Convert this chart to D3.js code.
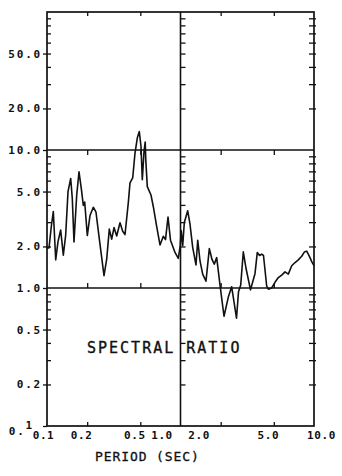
<!DOCTYPE html>
<html>
<head>
<meta charset="utf-8">
<script src="https://cdn.jsdelivr.net/npm/d3@7"></script>
<style>
  body { margin: 0; background: #fff; }
  svg { display: block; }
  .tk line { stroke: #111; stroke-width: 1.3; }
  .tk path { display: none; }
  .lbl text { font-family: "DejaVu Sans Mono", monospace; font-weight: bold; font-size: 11px; fill: #111; }
</style>
</head>
<body>
<div id="chart"></div>
<script>
var width = 342, height = 476;

// spectral ratio
const periods = [0.100, 0.1035, 0.1077, 0.1115, 0.1162, 0.1209, 0.1266, 0.1325, 0.138, 0.1437,
  0.1505, 0.1547, 0.1593, 0.1669, 0.1737, 0.1807, 0.1871, 0.1916, 0.2004, 0.2099,
  0.2223, 0.2328, 0.2465, 0.2673, 0.280, 0.2929, 0.3052, 0.3177, 0.3328, 0.3522,
  0.369, 0.384, 0.4064, 0.4185, 0.4385, 0.4563, 0.4746, 0.4913, 0.506, 0.5175,
  0.5329, 0.544, 0.5495, 0.564, 0.601, 0.6258, 0.6633, 0.7022, 0.7433, 0.772,
  0.8062, 0.8414, 0.9095, 0.9627, 0.996, 1.012, 1.039, 1.068, 1.132, 1.178,
  1.234, 1.306, 1.346, 1.40, 1.466, 1.552, 1.644, 1.722, 1.791, 1.867,
  1.977, 2.118, 2.288, 2.418, 2.627, 2.72, 2.825, 2.954, 3.095, 3.344,
  3.614, 3.76, 3.91, 4.058, 4.185, 4.423, 4.55, 4.82, 5.105, 5.403,
  5.73, 6.065, 6.42, 6.81, 7.21, 7.63, 8.09, 8.46, 8.82, 9.22, 9.66, 10.0];
const ratios = [1.95, 1.95, 2.79, 3.58, 1.60, 2.17, 2.63, 1.73, 2.42, 4.99,
  6.22, 4.45, 2.16, 4.70, 6.94, 5.25, 3.97, 4.20, 2.40, 3.35,
  3.85, 3.54, 2.27, 1.23, 1.62, 2.67, 2.26, 2.74, 2.38, 2.97,
  2.58, 2.44, 4.14, 5.78, 6.27, 9.51, 12.2, 13.6, 10.6, 6.08,
  9.75, 11.4, 8.48, 5.43, 4.72, 3.88, 2.78, 2.05, 2.37, 2.24,
  3.27, 2.22, 1.81, 1.64, 2.03, 2.61, 2.03, 2.98, 3.63, 2.90,
  1.97, 1.47, 2.22, 1.57, 1.26, 1.12, 1.93, 1.61, 1.49, 1.66,
  1.05, 0.624, 0.869, 1.02, 0.604, 0.939, 1.05, 1.83, 1.39, 0.97,
  1.27, 1.81, 1.72, 1.76, 1.72, 1.03, 0.98, 1.00, 1.10, 1.19,
  1.24, 1.31, 1.26, 1.45, 1.53, 1.60, 1.70, 1.82, 1.85, 1.70, 1.54, 1.45];

const xLabels = [0.1, 0.2, 0.5, 1, 2, 5, 10];
const yLabels = [0.1, 0.2, 0.5, 1, 2, 5, 10, 20, 50];
const xTitle = "PERIOD (SEC)";
const plotTitle = "SPECTRAL RATIO";

const x = d3.scaleLog().domain([0.1, 10]).range([47, 314]);
const y = d3.scaleLog().domain([0.1, 100]).range([426, 12]);

// minor ticks: 2..9 in every decade
var yMinor = [];
[0.1, 1, 10].forEach(function(dec) {
  d3.range(2, 10).forEach(function(k) { yMinor.push(k * dec); });
});
var xMinor = [0.2, 0.5, 2, 5];

const svg = d3.select("#chart").append("svg")
    .attr("width", width)
    .attr("height", height);

// y ticks on left axis, middle line, right axis
svg.append("g").attr("class", "tk")
    .attr("transform", "translate(" + x(0.1) + ",0)")
    .call(d3.axisLeft(y).tickValues(yMinor).tickSizeInner(-4).tickSizeOuter(0).tickFormat(""));
svg.append("g").attr("class", "tk")
    .attr("transform", "translate(" + x(1) + ",0)")
    .call(d3.axisLeft(y).tickValues(yMinor).tickSizeInner(-5).tickSizeOuter(0).tickFormat(""));
svg.append("g").attr("class", "tk")
    .attr("transform", "translate(" + x(10) + ",0)")
    .call(d3.axisRight(y).tickValues(yMinor).tickSizeInner(-5).tickSizeOuter(0).tickFormat(""))
    .selectAll("line").attr("x1", 2);

// x ticks on top, 10-line, 1-line, bottom
svg.append("g").attr("class", "tk")
    .attr("transform", "translate(0," + y(100) + ")")
    .call(d3.axisTop(x).tickValues(xMinor).tickSizeInner(-4).tickSizeOuter(0).tickFormat(""));
svg.append("g").attr("class", "tk")
    .attr("transform", "translate(0," + y(10) + ")")
    .call(d3.axisTop(x).tickValues(xMinor).tickSizeInner(-5).tickSizeOuter(0).tickFormat(""));
svg.append("g").attr("class", "tk")
    .attr("transform", "translate(0," + y(1) + ")")
    .call(d3.axisBottom(x).tickValues(xMinor).tickSizeInner(-5).tickSizeOuter(0).tickFormat(""));
svg.append("g").attr("class", "tk")
    .attr("transform", "translate(0," + y(0.1) + ")")
    .call(d3.axisBottom(x).tickValues(xMinor).tickSizeInner(-4).tickSizeOuter(0).tickFormat(""));

// y labels
var yAx = svg.append("g").attr("class", "tk lbl")
    .attr("transform", "translate(" + x(0.1) + ",0)")
    .call(d3.axisLeft(y).tickValues(yLabels).tickSizeInner(4).tickSizeOuter(0)
      .tickPadding(1).tickFormat(d3.format(".1f")));
yAx.selectAll("text").attr("letter-spacing", 1.8);
// the bottom "0.1" was printed low with a raised last digit
yAx.selectAll(".tick").filter(function(d) { return d === 0.1; }).select("text")
    .attr("dy", "0.8em")
    .attr("dx", -8)
    .text("0.")
    .append("tspan").attr("dy", "-0.55em").text("1");

// x labels (the plotter shifted a few of them)
var xNudge = { 0.1: -4, 0.2: -6, 0.5: -6, 1: -19, 2: -22, 5: -6, 10: 7 };
var xAx = svg.append("g").attr("class", "tk lbl")
    .attr("transform", "translate(0," + y(0.1) + ")")
    .call(d3.axisBottom(x).tickValues(xLabels).tickSize(0).tickPadding(5)
      .tickFormat(d3.format(".1f")));
xAx.selectAll("text")
    .attr("letter-spacing", 0.6)
    .attr("dx", function(d) { return xNudge[d]; });

// frame and grid lines
svg.append("rect")
    .attr("x", x(0.1)).attr("y", y(100))
    .attr("width", x(10) - x(0.1)).attr("height", y(0.1) - y(100))
    .attr("fill", "none").attr("stroke", "#111").attr("stroke-width", 1.7);
svg.append("line")
    .attr("x1", x(1)).attr("x2", x(1)).attr("y1", y(100)).attr("y2", y(0.1))
    .attr("stroke", "#111").attr("stroke-width", 1.6);
[10, 1].forEach(function(v) {
  svg.append("line")
      .attr("x1", x(0.1)).attr("x2", x(10)).attr("y1", y(v)).attr("y2", y(v))
      .attr("stroke", "#111").attr("stroke-width", 1.6);
});

// the curve
const line = d3.line()
    .x(function(d, i) { return x(periods[i]); })
    .y(function(d) { return y(d); });
svg.append("path")
    .datum(ratios)
    .attr("d", line)
    .attr("fill", "none")
    .attr("stroke", "#111")
    .attr("stroke-width", 1.6)
    .attr("stroke-linejoin", "round");

// texts
svg.append("text")
    .attr("x", x(0.1) + 40).attr("y", 353)
    .attr("font-family", "DejaVu Sans Mono, monospace")
    .attr("font-size", 15)
    .attr("letter-spacing", 2)
    .attr("fill", "#111")
    .attr("stroke", "#111").attr("stroke-width", 0.35)
    .text(plotTitle);
svg.append("text")
    .attr("x", x(0.1) + 48).attr("y", 461)
    .attr("font-family", "DejaVu Sans Mono, monospace")
    .attr("font-size", 13)
    .attr("letter-spacing", 0.9)
    .attr("fill", "#111")
    .attr("stroke", "#111").attr("stroke-width", 0.3)
    .text(xTitle);
</script>
</body>
</html>
